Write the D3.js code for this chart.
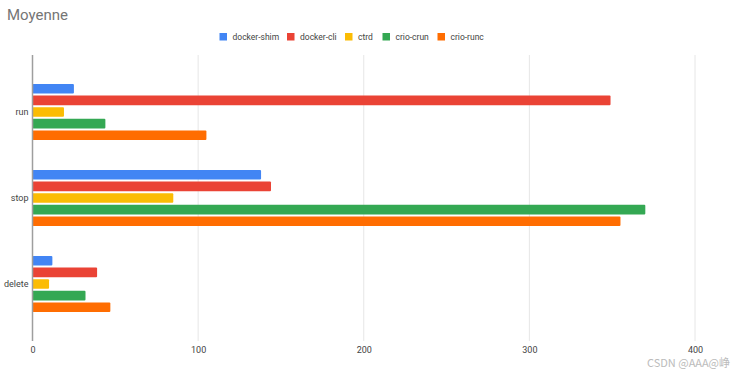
<!DOCTYPE html>
<html><head><meta charset="utf-8">
<script src="https://cdn.jsdelivr.net/npm/d3@7"></script>
<style>body{margin:0;background:#fff;}svg{display:block;font-family:Roboto,Arial,sans-serif;}</style>
</head><body>
<script>
const categories = ["run", "stop", "delete"];
const seriesNames = ["docker-shim", "docker-cli", "ctrd", "crio-crun", "crio-runc"];
const seriesColors = ["#4285F4", "#EA4335", "#FBBC04", "#34A853", "#FF6D01"];
const dockerShim = [25, 138, 12];
const dockerCli = [349, 144, 39];
const ctrd = [19, 85, 10];
const crioCrun = [44, 370, 32];
const crioRunc = [105, 355, 47];
const xTicks = [0, 100, 200, 300, 400];
const seriesValues = [dockerShim, dockerCli, ctrd, crioCrun, crioRunc];

const W = 737, H = 376;
const svg = d3.select("body").append("svg").attr("width", W).attr("height", H);

const plotTop = 55, plotBottom = 341;
const x = d3.scaleLinear().domain([0, 400]).range([32.5, 695]);
const y = d3.scaleBand().domain(categories).range([69, 327]).padding(0);
const inner = d3.scaleBand().domain(seriesNames).range([0, 56]).paddingInner(0.17).paddingOuter(0);

// title
svg.append("text").attr("x", 7).attr("y", 20).attr("font-size", 15).attr("fill", "#757575").text("Moyenne");

// gridlines
svg.append("g").selectAll("line").data(xTicks.filter(d => d > 0)).join("line")
  .attr("x1", d => x(d)).attr("x2", d => x(d)).attr("y1", plotTop).attr("y2", plotBottom)
  .attr("stroke", "#e6e6e6").attr("stroke-width", 1);

// bars
const groups = svg.append("g").selectAll("g").data(categories).join("g")
  .attr("transform", c => `translate(0,${y(c) + y.bandwidth() / 2 - 28})`);
groups.selectAll("rect").data((c, ci) => seriesNames.map((s, si) => ({s, si, v: seriesValues[si][ci]}))).join("rect")
  .attr("x", x(0)).attr("y", d => inner(d.s)).attr("height", inner.bandwidth())
  .attr("width", d => x(d.v) - x(0)).attr("fill", d => seriesColors[d.si]).attr("rx", 1);

// axis line at 0
svg.append("line").attr("x1", x(0)).attr("x2", x(0)).attr("y1", plotTop).attr("y2", plotBottom)
  .attr("stroke", "#9e9e9e").attr("stroke-width", 1.5);

// x axis
const xAxis = svg.append("g").attr("transform", `translate(0,${plotBottom})`)
  .call(d3.axisBottom(x).tickValues(xTicks).tickSize(0).tickPadding(6).tickFormat(d3.format("d")));
xAxis.select(".domain").remove();
xAxis.selectAll("text").attr("font-size", 9).attr("fill", "#444").attr("font-family", "Roboto,Arial,sans-serif");

// y axis labels
const yAxis = svg.append("g").attr("transform", `translate(${x(0)},0)`)
  .call(d3.axisLeft(y).tickSize(0).tickPadding(4));
yAxis.select(".domain").remove();
yAxis.selectAll("text").attr("font-size", 9).attr("fill", "#444").attr("font-family", "Roboto,Arial,sans-serif");

// legend
const legendX = [219.5, 287, 345, 382.5, 437.5];
const legend = svg.append("g").selectAll("g").data(seriesNames).join("g")
  .attr("transform", (d, i) => `translate(${legendX[i]},33)`);
legend.append("rect").attr("width", 7.5).attr("height", 7.5).attr("fill", (d, i) => seriesColors[i]);
legend.append("text").attr("x", 13).attr("y", 7).attr("font-size", 8.5).attr("fill", "#444").text(d => d);

// watermark
svg.append("text").attr("x", 730).attr("y", 367).attr("text-anchor", "end").attr("font-size", 11)
  .attr("fill", "#bbb").attr("font-family", "'Noto Sans CJK SC',sans-serif").text("CSDN @AAA@峥");
</script>
</body></html>
